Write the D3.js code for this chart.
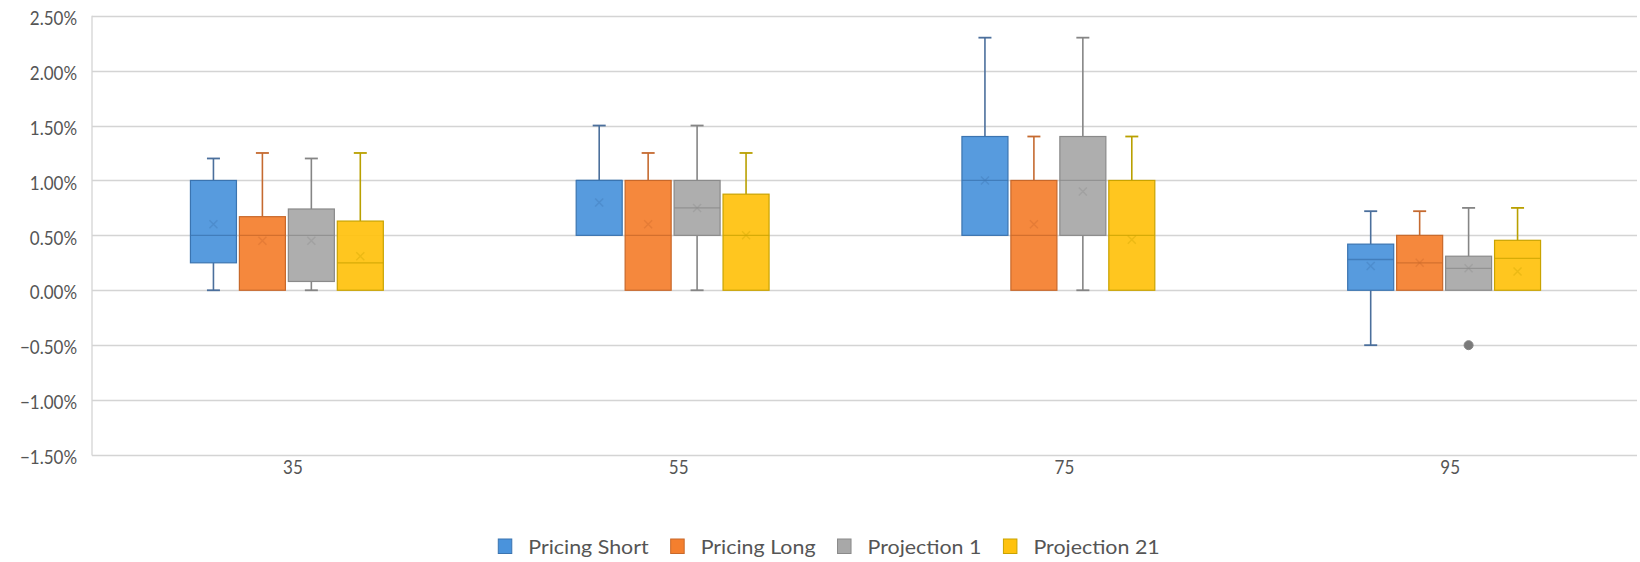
<!DOCTYPE html>
<html>
<head>
<meta charset="utf-8">
<script src="https://cdn.jsdelivr.net/npm/d3@7"></script>
<style>
  html, body { margin: 0; padding: 0; background: #fff; }
  svg { display: block; }
  text { font-family: Lato, "Open Sans", sans-serif; fill: #555555; }
</style>
</head>
<body>
<svg id="chart" width="1640" height="562"></svg>
<script>
// Age groups on the category axis
const categories = ["35", "55", "75", "95"];
const seriesNames = ["Pricing Short", "Pricing Long", "Projection 1", "Projection 21"];

// Box statistics per age group, in %: [min, q1, median, q3, max, mean]
const pricingShort = [
  [0.00, 0.25, 0.50, 1.00, 1.20, 0.60],
  [0.50, 0.50, 1.00, 1.00, 1.50, 0.80],
  [0.50, 0.50, 1.00, 1.40, 2.30, 1.00],
  [-0.50, 0.00, 0.28, 0.42, 0.72, 0.22]
];
const pricingLong = [
  [0.00, 0.00, 0.50, 0.67, 1.25, 0.45],
  [0.00, 0.00, 0.50, 1.00, 1.25, 0.60],
  [0.00, 0.00, 0.50, 1.00, 1.40, 0.60],
  [0.00, 0.00, 0.25, 0.50, 0.72, 0.25]
];
const projection1 = [
  [0.00, 0.08, 0.50, 0.74, 1.20, 0.45],
  [0.00, 0.50, 0.75, 1.00, 1.50, 0.75],
  [0.00, 0.50, 1.00, 1.40, 2.30, 0.90],
  [0.00, 0.00, 0.20, 0.31, 0.75, 0.20]
];
const projection21 = [
  [0.00, 0.00, 0.25, 0.63, 1.25, 0.31],
  [0.00, 0.00, 0.50, 0.875, 1.25, 0.50],
  [0.00, 0.00, 0.50, 1.00, 1.40, 0.46],
  [0.00, 0.00, 0.29, 0.455, 0.75, 0.17]
];
// Outlying points: [series index, category index, value %]
const outliers = [
  [2, 3, -0.50]
];

const yTicks = [-1.5, -1.0, -0.5, 0.0, 0.5, 1.0, 1.5, 2.0, 2.5];

const fills   = ["#4a93dc", "#f47f2e", "#a8a8a8", "#ffc20e"];
const strokes = ["#3b74b0", "#c8682a", "#8a8a8a", "#c9a300"];
const whiskerColors = ["#4b6f9c", "#c56a30", "#858585", "#b9a000"];

const allSeries = [pricingShort, pricingLong, projection1, projection21];

const svg = d3.select("#chart");
const plotLeft = 94, plotRight = 1637, plotTop = 15.7, plotBottom = 455;
const NUM_SX = 0.85;    // horizontal scale for numeric labels
const LEGEND_SX = 1.07; // horizontal scale for legend labels

const y = d3.scaleLinear().domain([-1.5, 2.5]).range([plotBottom, plotTop]);
const x0 = d3.scaleBand().domain(categories).range([plotLeft, plotRight])
  .paddingInner(0.5).paddingOuter(0.25);
const x1 = d3.scaleBand().domain(d3.range(seriesNames.length))
  .range([0, x0.bandwidth()]).paddingInner(0.06);

// Horizontal gridlines
svg.append("g").selectAll("line").data(yTicks).join("line")
  .attr("x1", plotLeft - 2).attr("x2", plotRight)
  .attr("y1", d => Math.round(y(d)) + 0.5).attr("y2", d => Math.round(y(d)) + 0.5)
  .attr("stroke", "#d4d4d4").attr("stroke-width", 1.3);

// Vertical axis line
svg.append("line")
  .attr("x1", plotLeft - 2).attr("x2", plotLeft - 2)
  .attr("y1", y(2.5)).attr("y2", y(-1.5) + 0.5)
  .attr("stroke", "#d4d4d4").attr("stroke-width", 1.3);

// Y tick labels
const fmt = d3.format(".2f");
svg.append("g").selectAll("text").data(yTicks).join("text")
  .attr("transform", d => `translate(77,${y(d) + 2}) scale(${NUM_SX},1)`)
  .attr("text-anchor", "end").attr("dy", "0.36em")
  .style("font-size", "20px")
  .text(d => fmt(d) + "%");

// Category labels
svg.append("g").selectAll("text").data(categories).join("text")
  .attr("transform", d => `translate(${x0(d) + x0.bandwidth() / 2 + 6},${467}) scale(${NUM_SX},1)`)
  .attr("text-anchor", "middle").attr("dy", "0.36em")
  .style("font-size", "20px")
  .text(d => d);

// Boxes
allSeries.forEach((data, si) => {
  const g = svg.append("g");
  const bw = x1.bandwidth();
  data.forEach((s, ci) => {
    const [mn, q1, med, q3, mx, mean] = s;
    const xl = x0(categories[ci]) + x1(si);
    const cx = xl + bw / 2;
    const wc = whiskerColors[si];
    // whiskers
    if (mx > q3) {
      g.append("line").attr("x1", cx).attr("x2", cx).attr("y1", y(mx)).attr("y2", y(q3))
        .attr("stroke", wc).attr("stroke-width", 1.6);
      g.append("line").attr("x1", cx - 6.5).attr("x2", cx + 6.5).attr("y1", y(mx)).attr("y2", y(mx))
        .attr("stroke", wc).attr("stroke-width", 1.8);
    }
    if (mn < q1) {
      g.append("line").attr("x1", cx).attr("x2", cx).attr("y1", y(q1)).attr("y2", y(mn))
        .attr("stroke", wc).attr("stroke-width", 1.6);
      g.append("line").attr("x1", cx - 6.5).attr("x2", cx + 6.5).attr("y1", y(mn)).attr("y2", y(mn))
        .attr("stroke", wc).attr("stroke-width", 1.8);
    }
    // box
    g.append("rect")
      .attr("x", xl).attr("y", y(q3))
      .attr("width", bw).attr("height", y(q1) - y(q3))
      .attr("fill", fills[si]).attr("fill-opacity", 0.93)
      .attr("stroke", strokes[si]).attr("stroke-width", 1.2);
    // median
    g.append("line").attr("x1", xl).attr("x2", xl + bw).attr("y1", y(med)).attr("y2", y(med))
      .attr("stroke", strokes[si]).attr("stroke-width", 1.3).attr("stroke-opacity", 0.75);
    // mean marker
    const r = 4;
    g.append("path")
      .attr("d", `M${cx - r},${y(mean) - r}L${cx + r},${y(mean) + r}M${cx - r},${y(mean) + r}L${cx + r},${y(mean) - r}`)
      .attr("stroke", strokes[si]).attr("stroke-width", 1.4).attr("stroke-opacity", 0.35);
  });
});

// Outlier points
svg.append("g").selectAll("circle").data(outliers).join("circle")
  .attr("cx", d => x0(categories[d[1]]) + x1(d[0]) + x1.bandwidth() / 2)
  .attr("cy", d => y(d[2]))
  .attr("r", 4.5)
  .attr("fill", d => d3.color(fills[d[0]]).darker(0.9))
  .attr("stroke", d => whiskerColors[d[0]]).attr("stroke-width", 1);

// Legend
const legend = svg.append("g");
const items = [];
seriesNames.forEach((name, i) => {
  const it = legend.append("g");
  it.append("rect").attr("x", 0).attr("y", -7).attr("width", 13.5).attr("height", 14.5)
    .attr("fill", fills[i]).attr("stroke", strokes[i]).attr("stroke-width", 1);
  const t = it.append("text").attr("transform", `translate(30,1) scale(${LEGEND_SX},1)`)
    .attr("dy", "0.36em").style("font-size", "20px").text(name);
  const w = 30 + t.node().getComputedTextLength() * LEGEND_SX;
  items.push({ it, w });
});
const gap = 22;
const total = d3.sum(items, d => d.w) + gap * (items.length - 1);
let cur = 829 - total / 2;
items.forEach(d => { d.it.attr("transform", `translate(${cur},546)`); cur += d.w + gap; });
</script>
</body>
</html>
